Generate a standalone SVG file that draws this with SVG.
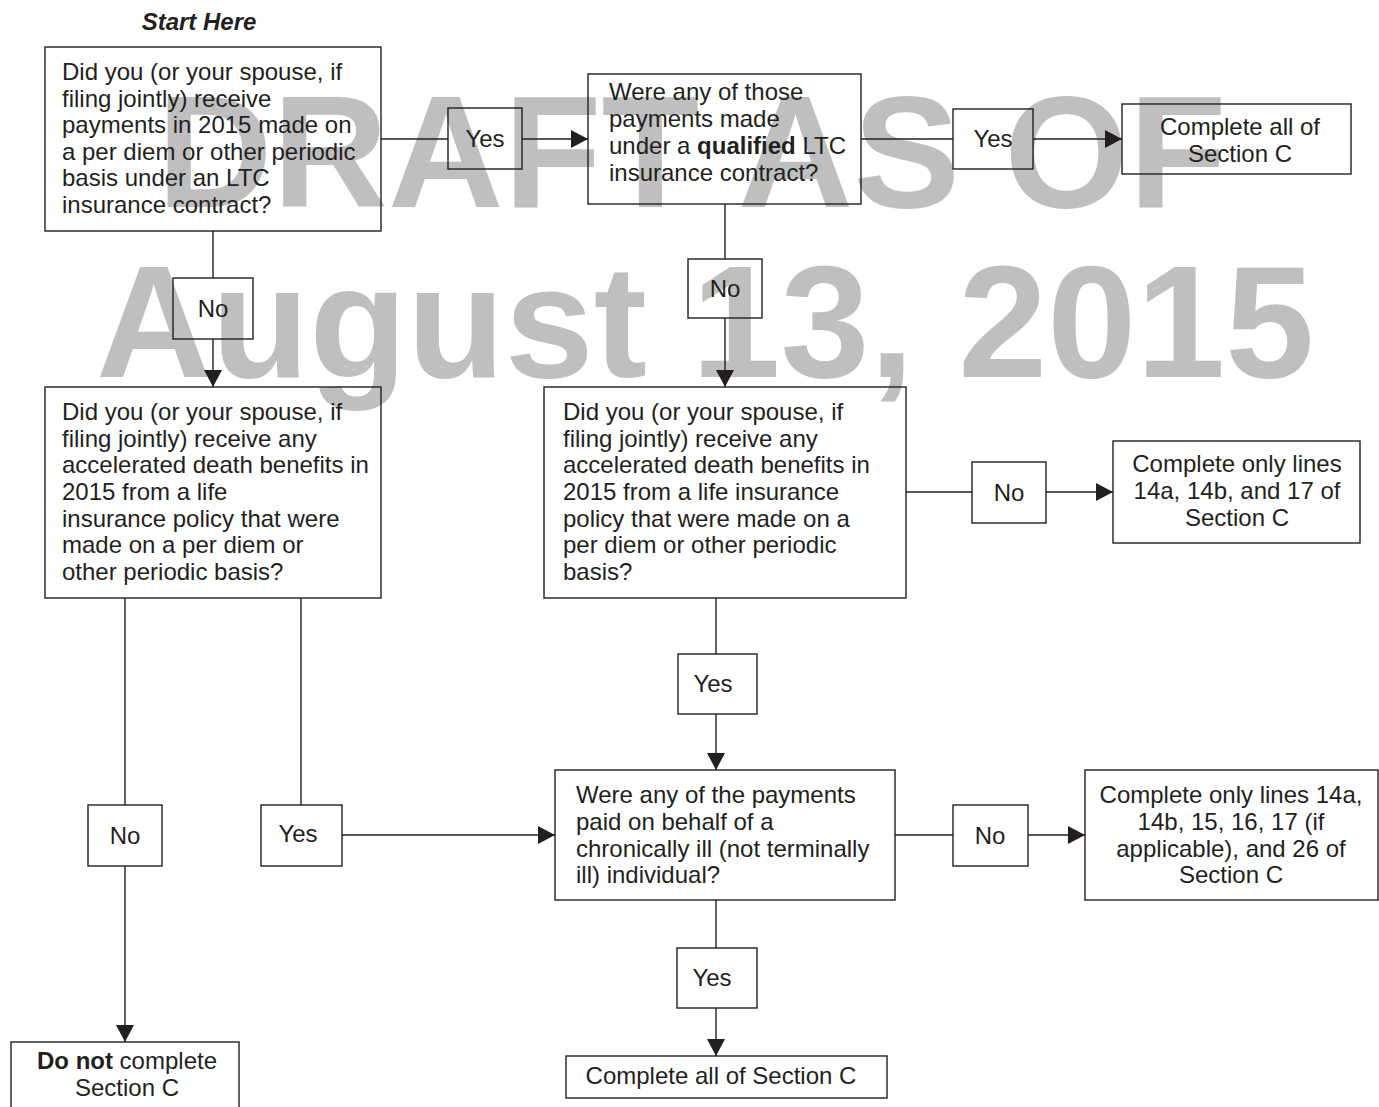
<svg xmlns="http://www.w3.org/2000/svg" width="1379" height="1107" viewBox="0 0 1379 1107">
<style>
.box{fill:none;stroke:#231f20;stroke-width:1.4}
.t{font-family:"Liberation Sans",Arial,sans-serif;font-size:24px;fill:#231f20}
.c{text-anchor:middle}
.ln{fill:none;stroke:#231f20;stroke-width:1.4}
.wm{font-family:"Liberation Sans",Arial,sans-serif;font-weight:bold;font-size:160px;fill:#bfbfbf}
</style>
<defs>
<marker id="ah" markerWidth="17" markerHeight="18" refX="17" refY="9" orient="auto" markerUnits="userSpaceOnUse">
<path d="M0,0 L17,9 L0,18 Z" fill="#231f20"/>
</marker>
</defs>
<rect width="1379" height="1107" fill="#fff"/>
<g id="watermark">
<text class="wm" x="157" y="207">DRAFT AS OF</text>
<text class="wm" x="96" y="377" font-size="159">August 13, 2015</text>
</g>
<text class="t" x="199" y="30" text-anchor="middle" font-weight="bold" font-style="italic" font-size="22">Start Here</text>
<g id="connectors">
<path class="ln" d="M381,139 H448"/>
<path class="ln" d="M522,139 H588" marker-end="url(#ah)"/>
<path class="ln" d="M861,139 H953"/>
<path class="ln" d="M1033,139 H1122" marker-end="url(#ah)"/>
<path class="ln" d="M213,231 V278"/>
<path class="ln" d="M213,339 V387" marker-end="url(#ah)"/>
<path class="ln" d="M725,204 V259"/>
<path class="ln" d="M725,318 V387" marker-end="url(#ah)"/>
<path class="ln" d="M906,492 H972"/>
<path class="ln" d="M1046,492 H1113" marker-end="url(#ah)"/>
<path class="ln" d="M125,598 V805"/>
<path class="ln" d="M125,866 V1042" marker-end="url(#ah)"/>
<path class="ln" d="M301,598 V805"/>
<path class="ln" d="M342,835 H555" marker-end="url(#ah)"/>
<path class="ln" d="M716,598 V654"/>
<path class="ln" d="M716,714 V770" marker-end="url(#ah)"/>
<path class="ln" d="M895,835 H953"/>
<path class="ln" d="M1028,835 H1085" marker-end="url(#ah)"/>
<path class="ln" d="M716,900 V948"/>
<path class="ln" d="M716,1008 V1056" marker-end="url(#ah)"/>
</g>
<g id="q1">
<rect class="box" x="45" y="47" width="336" height="184"/>
<text class="t" x="62" y="80">Did you (or your spouse, if</text>
<text class="t" x="62" y="107">filing jointly)  receive</text>
<text class="t" x="62" y="133">payments in 2015 made on</text>
<text class="t" x="62" y="160">a per diem or other periodic</text>
<text class="t" x="62" y="186">basis under an LTC</text>
<text class="t" x="62" y="213">insurance contract?</text>
</g>
<g id="yes1"><rect class="box" x="448" y="108" width="74" height="61"/><text class="t c" x="485" y="147">Yes</text></g>
<g id="q2">
<rect class="box" x="588" y="74" width="273" height="130"/>
<text class="t" x="609" y="100">Were any of those</text>
<text class="t" x="609" y="127">payments made</text>
<text class="t" x="609" y="154">under a <tspan font-weight="bold">qualified</tspan> LTC</text>
<text class="t" x="609" y="181">insurance contract?</text>
</g>
<g id="yes2"><rect class="box" x="953" y="109" width="80" height="60"/><text class="t c" x="993" y="147">Yes</text></g>
<g id="r1">
<rect class="box" x="1122" y="104" width="229" height="70"/>
<text class="t c" x="1240" y="135">Complete all of</text>
<text class="t c" x="1240" y="162">Section C</text>
</g>
<g id="no1"><rect class="box" x="173" y="278" width="80" height="61"/><text class="t c" x="213" y="317">No</text></g>
<g id="no2"><rect class="box" x="688" y="259" width="74" height="59"/><text class="t c" x="725" y="297">No</text></g>
<g id="q3">
<rect class="box" x="45" y="387" width="336" height="211"/>
<text class="t" x="62" y="420">Did you (or your spouse, if</text>
<text class="t" x="62" y="447">filing jointly) receive any</text>
<text class="t" x="62" y="473">accelerated death benefits in</text>
<text class="t" x="62" y="500">2015 from a life</text>
<text class="t" x="62" y="527">insurance policy that were</text>
<text class="t" x="62" y="553">made on a per diem or</text>
<text class="t" x="62" y="580">other periodic basis?</text>
</g>
<g id="q4">
<rect class="box" x="544" y="387" width="362" height="211"/>
<text class="t" x="563" y="420">Did  you (or your spouse, if</text>
<text class="t" x="563" y="447">filing jointly) receive any</text>
<text class="t" x="563" y="473">accelerated death benefits in</text>
<text class="t" x="563" y="500">2015 from a life insurance</text>
<text class="t" x="563" y="527">policy that were made on a</text>
<text class="t" x="563" y="553">per diem or other periodic</text>
<text class="t" x="563" y="580">basis?</text>
</g>
<g id="no3"><rect class="box" x="972" y="462" width="74" height="61"/><text class="t c" x="1009" y="501">No</text></g>
<g id="r2">
<rect class="box" x="1113" y="441" width="247" height="102"/>
<text class="t c" x="1237" y="472">Complete only lines</text>
<text class="t c" x="1237" y="499">14a, 14b, and 17 of</text>
<text class="t c" x="1237" y="526">Section C</text>
</g>
<g id="yes3"><rect class="box" x="678" y="654" width="79" height="60"/><text class="t c" x="713" y="692">Yes</text></g>
<g id="no4"><rect class="box" x="88" y="805" width="74" height="61"/><text class="t c" x="125" y="844">No</text></g>
<g id="yes4"><rect class="box" x="261" y="805" width="81" height="61"/><text class="t c" x="298" y="842">Yes</text></g>
<g id="q5">
<rect class="box" x="555" y="770" width="340" height="130"/>
<text class="t" x="576" y="803">Were any of the payments</text>
<text class="t" x="576" y="830">paid on behalf of a</text>
<text class="t" x="576" y="857">chronically ill (not terminally</text>
<text class="t" x="576" y="883">ill) individual?</text>
</g>
<g id="no5"><rect class="box" x="953" y="805" width="75" height="61"/><text class="t c" x="990" y="844">No</text></g>
<g id="r3">
<rect class="box" x="1085" y="770" width="293" height="130"/>
<text class="t c" x="1231" y="803">Complete only lines 14a,</text>
<text class="t c" x="1231" y="830">14b, 15, 16, 17 (if</text>
<text class="t c" x="1231" y="857">applicable), and 26 of</text>
<text class="t c" x="1231" y="883">Section C</text>
</g>
<g id="yes5"><rect class="box" x="677" y="948" width="80" height="60"/><text class="t c" x="712" y="986">Yes</text></g>
<g id="r4">
<rect class="box" x="566" y="1056" width="321" height="42"/>
<text class="t c" x="721" y="1084">Complete all of Section C</text>
</g>
<g id="r5">
<rect class="box" x="11" y="1042" width="228" height="80"/>
<text class="t c" x="127" y="1069"><tspan font-weight="bold">Do not</tspan> complete</text>
<text class="t c" x="127" y="1096">Section C</text>
</g>
</svg>
